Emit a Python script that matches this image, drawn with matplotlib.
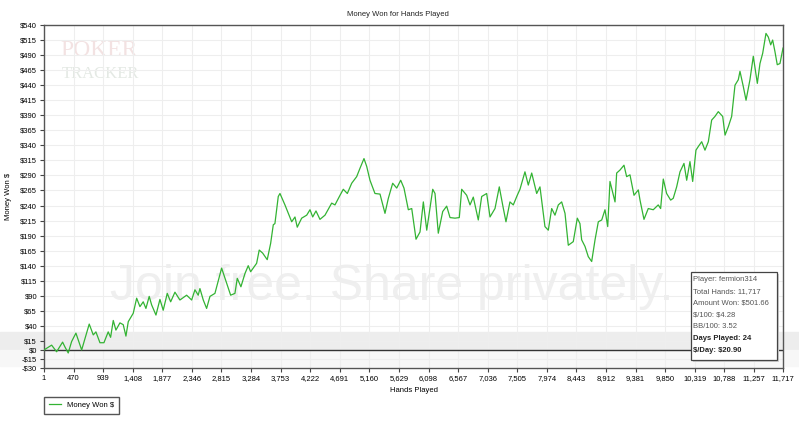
import matplotlib
matplotlib.use("Agg")
import matplotlib.pyplot as plt
from matplotlib.patches import Rectangle

# hands played vs cumulative money won ($)
hands = [1, 122, 201, 296, 333, 385, 439, 507, 598, 718, 782, 824, 888, 951,
         1019, 1057, 1099, 1141, 1205, 1257, 1300, 1337, 1416, 1470, 1522, 1574,
         1617, 1669, 1707, 1776, 1839, 1891, 1955, 2009, 2077, 2156, 2262, 2342,
         2394, 2446, 2473, 2526, 2579, 2632, 2711, 2817, 2897, 2960, 3028, 3065,
         3123, 3187, 3239, 3277, 3372, 3413, 3467, 3540, 3594, 3636, 3662, 3715,
         3742, 3821, 3874, 3928, 3980, 4016, 4086, 4166, 4218, 4261, 4313, 4376,
         4456, 4562, 4614, 4694, 4746, 4810, 4879, 4958, 5011, 5074, 5117, 5169,
         5248, 5328, 5407, 5460, 5529, 5593, 5656, 5708, 5777, 5831, 5899, 5962,
         6015, 6069, 6164, 6200, 6252, 6322, 6385, 6438, 6517, 6585, 6623, 6702,
         6755, 6807, 6886, 6940, 7019, 7072, 7151, 7219, 7278, 7325, 7388, 7441,
         7504, 7547, 7626, 7679, 7733, 7812, 7864, 7943, 7996, 8050, 8102, 8155,
         8208, 8261, 8313, 8392, 8456, 8498, 8525, 8578, 8630, 8684, 8737, 8789,
         8843, 8895, 8938, 8974, 9054, 9080, 9133, 9196, 9238, 9291, 9355, 9423,
         9450, 9513, 9581, 9660, 9739, 9777, 9819, 9872, 9936, 9977, 10031, 10084,
         10147, 10190, 10242, 10285, 10337, 10374, 10428, 10480, 10533, 10586,
         10638, 10691, 10761, 10798, 10850, 10903, 10956, 11008, 11035, 11087,
         11131, 11193, 11246, 11310, 11352, 11395, 11447, 11484, 11522, 11553,
         11589, 11626, 11669, 11717]
won = [0, 8, -3, 13, 5, -5, 14, 28, 0, 43, 25, 30, 12, 12,
       30, 21, 49, 33, 45, 42, 23, 47, 61, 86, 72, 80,
       69, 89, 75, 58, 84, 66, 94, 80, 96, 83, 91, 83,
       100, 91, 102, 83, 69, 89, 94, 136, 111, 91, 94, 119,
       105, 127, 140, 130, 144, 166, 161, 150, 177, 208, 210, 255,
       260, 241, 227, 213, 221, 204, 219, 224, 233, 221, 231, 217,
       224, 244, 241, 257, 267, 260, 277, 288, 302, 318, 305, 282,
       260, 259, 227, 252, 277, 269, 282, 269, 233, 235, 184, 196,
       246, 199, 267, 260, 194, 230, 239, 220, 219, 220, 267, 257,
       241, 254, 216, 255, 260, 221, 235, 271, 238, 213, 246, 241,
       257, 267, 296, 274, 294, 260, 271, 205, 199, 235, 224, 241,
       246, 227, 174, 180, 219, 210, 183, 172, 155, 147, 183, 213,
       216, 233, 205, 280, 246, 294, 299, 307, 288, 291, 257, 266,
       249, 217, 235, 233, 241, 235, 284, 260, 249, 252, 271, 296,
       310, 282, 313, 280, 332, 338, 346, 332, 346, 382,
       388, 396, 388, 357, 371, 388, 440, 449, 463, 438,
       415, 449, 488, 443, 476, 493, 526, 520, 507, 515,
       496, 474, 476, 501.66]

x_ticks = [1, 470, 939, 1408, 1877, 2346, 2815, 3284, 3753, 4222, 4691, 5160,
           5629, 6098, 6567, 7036, 7505, 7974, 8443, 8912, 9381, 9850, 10319,
           10788, 11257, 11717]
y_ticks = [-30, -15, 0, 15, 40, 65, 90, 115, 140, 165, 190, 215, 240, 265, 290,
           315, 340, 365, 390, 415, 440, 465, 490, 515, 540]

stats = ["Player: fermion314", "Total Hands: 11,717", "Amount Won: $501.66",
         "$/100: $4.28", "BB/100: 3.52"]
stats_bold = ["Days Played: 24", "$/Day: $20.90"]

plt.rcParams['font.family'] = ['Liberation Sans', 'DejaVu Sans']
plt.rcParams['text.parse_math'] = False
fs = 5.5
W, H = 799, 424

fig = plt.figure(figsize=(W / 100, H / 100), dpi=100)
ax = fig.add_axes([44 / W, (H - 368) / H, 739 / W, 343 / H])

# faint watermark band and text
fig.patches.append(Rectangle((0, (H - 350) / H), 1, 18 / H, transform=fig.transFigure,
                             color='#ededed', zorder=-5))
fig.patches.append(Rectangle((0, (H - 366) / H), 1, 16 / H, transform=fig.transFigure,
                             color='#f7f7f7', zorder=-5))
ax.set_zorder(1)
ax.patch.set_alpha(0)
fig.text(392 / W, 1 - 287 / H, "Join free. Share privately.", ha='center', va='center',
         fontsize=36, color='#efefef', zorder=-4)
fig.text(60 / W, 1 - 50 / H, "POKER", fontsize=17, family='Liberation Serif',
         color='#f3e2e2', va='center', zorder=-4)
fig.text(62 / W, 1 - 74 / H, "TRACKER", fontsize=12, family='Liberation Serif',
         color='#e4e9e4', va='center', zorder=-4)

ax.plot(hands, won, color='#33b333', linewidth=0.9, label='Money Won $', zorder=3)
ax.axhline(0, color='#333333', linewidth=1, zorder=2)

ax.set_xlim(1, 11717)
ax.set_ylim(-30, 540)
ax.set_xticks(x_ticks)
ax.set_xticklabels([f"{t:,}" for t in x_ticks])
ax.set_yticks(y_ticks)
ax.set_yticklabels([f"-${-t}" if t < 0 else f"${t}" for t in y_ticks])
ax.tick_params(labelsize=fs, length=3, width=0.8, color='#444444', pad=2)
ax.grid(True, color='#eeeeee', linewidth=0.8)
for s in ax.spines.values():
    s.set_color('#555555')
    s.set_linewidth(1)

fig.text(398 / W, 1 - 15 / H, "Money Won for Hands Played", ha='center', va='center',
         fontsize=fs, color='#222222')
ax.set_xlabel("Hands Played", fontsize=fs, labelpad=4)
ax.set_ylabel("Money Won $", fontsize=fs, labelpad=6)

fig.legend(loc='upper left', bbox_to_anchor=(44 / W, 1 - 397 / H), fontsize=fs,
           fancybox=False, edgecolor='#555555', framealpha=1, handlelength=1.6,
           borderpad=0.6, borderaxespad=0)

# player stats box
bx0, bx1, by0, by1 = 691, 777, 272, 360
fig.patches.append(Rectangle(((bx0 + 2) / W, 1 - (by1 + 2) / H), (bx1 - bx0) / W,
                             (by1 - by0) / H, transform=fig.transFigure,
                             facecolor='#d0d0d0', edgecolor='none', zorder=4))
fig.patches.append(Rectangle((bx0 / W, 1 - by1 / H), (bx1 - bx0) / W, (by1 - by0) / H,
                             transform=fig.transFigure, facecolor='white',
                             edgecolor='#444444', linewidth=0.9, zorder=5))
line_y = [279.3, 291.3, 302.7, 315, 326.7, 339, 350.7]
for i, s in enumerate(stats + stats_bold):
    bold = s in stats_bold
    fig.text(693 / W, 1 - line_y[i] / H, s, fontsize=fs, va='center', zorder=6,
             color='#222222' if bold else '#555555',
             fontweight='bold' if bold else 'normal')

fig.savefig("out.png", dpi=100)
